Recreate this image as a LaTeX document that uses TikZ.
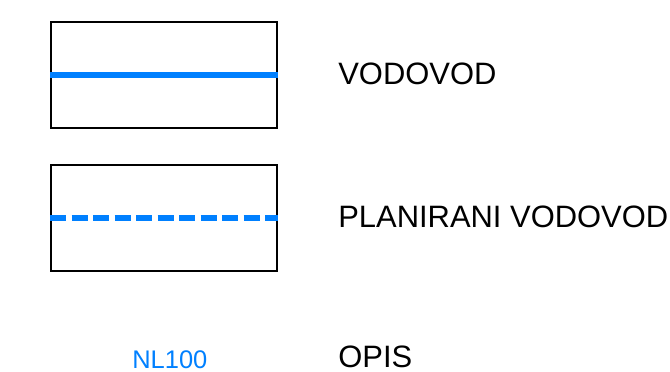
\documentclass[tikz,border=0pt]{standalone}
\usepackage{fontspec}
\setmainfont{Liberation Sans}
\definecolor{pipeblue}{RGB}{0,128,255}

\begin{document}
\begin{tikzpicture}[x=0.02cm, y=-0.02cm,
	legbox/.style={rectangle,draw,line width=0.9pt,minimum width=4.52cm,minimum height=2.12cm,inner sep=0},
	pipe/.style={pipeblue,line width=3.3pt},
	legtext/.style={anchor=base west,inner sep=0,font=\fontsize{17.6}{20}\selectfont}]

		\useasboundingbox (0,0) rectangle (670,372);

		\node (B1) at (164,75) [legbox] {};
		\node (B2) at (164,218) [legbox] {};

		\draw[pipe] (B1.west) to (B1.east);
		\draw[pipe, dash pattern=on 0.32cm off 0.11cm] (B2.west) to (B2.east);

		\node (T1) at (338,84) [legtext] {VODOVOD};
		\node (T2) at (338,227) [legtext] {PLANIRANI VODOVOD};
		\node (T3) at (338,367) [legtext] {OPIS};
		\node (NL) at (132,368) [legtext,pipeblue,font=\fontsize{14.5}{17}\selectfont] {NL100};

	\end{tikzpicture}
\end{document}
